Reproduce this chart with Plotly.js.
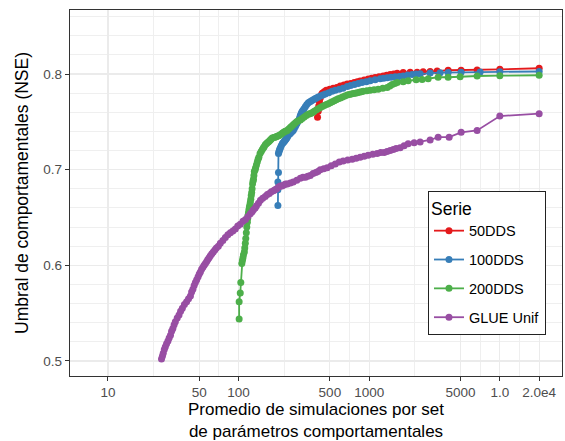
<!DOCTYPE html>
<html>
<head>
<meta charset="utf-8">
<script src="https://cdn.plot.ly/plotly-3.0.1.min.js"></script>
<style>
  html, body { margin: 0; padding: 0; background: #fff; }
  #chart { width: 565px; height: 441px; }
</style>
</head>
<body>
<div id="chart"></div>
<script>
// ---- Data ----
const seriesNames = ["50DDS", "100DDS", "200DDS", "GLUE Unif"];
const seriesColors = ["#E41A1C", "#377EB8", "#4DAF4A", "#984EA3"];

const dds50_x = [402, 407, 411, 416, 422, 429, 437, 452, 469, 498, 530, 565, 600, 640, 679, 722, 768, 810, 853, 915, 983, 1045, 1111, 1190, 1279, 1360, 1447, 1540, 1638, 1820, 2059, 2328, 2588, 2928, 3311, 4020, 5052, 6700, 10000, 20000];
const dds50_y = [0.7547, 0.761, 0.7666, 0.771, 0.775, 0.778, 0.780, 0.7815, 0.783, 0.784, 0.785, 0.786, 0.7875, 0.7885, 0.7895, 0.790, 0.791, 0.792, 0.7927, 0.7937, 0.7948, 0.7955, 0.7963, 0.797, 0.7979, 0.7987, 0.7995, 0.800, 0.8007, 0.8016, 0.8018, 0.8019, 0.8023, 0.8026, 0.8031, 0.8039, 0.804, 0.8042, 0.8049, 0.806];

const dds100_x = [200, 200, 200, 202, 202, 203.5, 205, 207, 209, 212, 216, 219, 222, 225, 228, 231, 234, 237, 240, 245, 250, 256, 262, 267, 272, 276, 280, 284, 289, 293, 297, 302, 306, 311, 318, 325, 333, 342, 352, 362, 373, 384, 395, 407, 424, 442, 461, 490, 520, 550, 590, 630, 679, 720, 770, 824, 880, 950, 1018, 1110, 1214, 1290, 1373, 1470, 1581, 1700, 1820, 1970, 2133, 2290, 2455, 2928, 3491, 4020, 5052, 7063, 10000, 20000];
const dds100_y = [0.6625, 0.679, 0.687, 0.697, 0.717, 0.7185, 0.720, 0.7215, 0.723, 0.725, 0.727, 0.728, 0.729, 0.730, 0.731, 0.732, 0.733, 0.7345, 0.736, 0.737, 0.738, 0.7395, 0.741, 0.743, 0.745, 0.747, 0.7485, 0.750, 0.752, 0.754, 0.7565, 0.759, 0.7605, 0.762, 0.764, 0.766, 0.768, 0.770, 0.771, 0.772, 0.773, 0.774, 0.775, 0.776, 0.777, 0.778, 0.779, 0.7805, 0.782, 0.783, 0.784, 0.785, 0.787, 0.788, 0.789, 0.790, 0.791, 0.792, 0.793, 0.794, 0.795, 0.7955, 0.796, 0.7965, 0.797, 0.7975, 0.798, 0.799, 0.7995, 0.800, 0.8003, 0.801, 0.8014, 0.8016, 0.8018, 0.802, 0.8023, 0.8026];

const dds200_x = [101, 101, 103, 104, 105.9, 107, 108, 109, 110.7, 111.5, 112.6, 113.5, 114.6, 115.6, 116.7, 117.5, 118, 119, 120, 121, 122, 123, 124, 125, 126, 127, 128, 129, 130, 131, 132, 134, 135, 137, 139, 141, 143, 146, 149, 152, 155, 157, 160, 163, 166, 169, 172, 175, 178, 181, 186, 190, 194, 198, 202, 206, 211, 216, 221, 226, 231, 236, 242, 249, 255, 262, 270, 278, 287, 297, 307, 318, 330, 342, 351, 360, 370, 380, 395, 410, 423, 437, 453, 470, 486, 503, 521, 540, 559, 579, 602, 625, 651, 679, 704, 730, 756, 782, 810, 840, 870, 900, 960, 1018, 1090, 1172, 1270, 1373, 1440, 1500, 1570, 1638, 1820, 1988, 2288, 2543, 2827, 3371, 4020, 4966, 6700, 10000, 20000];
const dds200_y = [0.544, 0.562, 0.571, 0.582, 0.602, 0.605, 0.608, 0.611, 0.614, 0.618, 0.623, 0.628, 0.634, 0.640, 0.645, 0.649, 0.652, 0.655, 0.658, 0.661, 0.663, 0.666, 0.669, 0.673, 0.676, 0.680, 0.685, 0.688, 0.690, 0.694, 0.698, 0.700, 0.702, 0.705, 0.708, 0.711, 0.713, 0.717, 0.719, 0.721, 0.723, 0.724, 0.726, 0.727, 0.728, 0.729, 0.730, 0.731, 0.732, 0.733, 0.7335, 0.734, 0.7345, 0.735, 0.7355, 0.736, 0.737, 0.738, 0.739, 0.740, 0.7405, 0.741, 0.7425, 0.744, 0.7455, 0.747, 0.7485, 0.750, 0.751, 0.752, 0.7535, 0.755, 0.7565, 0.758, 0.7585, 0.759, 0.760, 0.761, 0.7625, 0.764, 0.765, 0.766, 0.767, 0.768, 0.769, 0.770, 0.771, 0.772, 0.773, 0.774, 0.775, 0.776, 0.777, 0.778, 0.7785, 0.779, 0.7795, 0.780, 0.7805, 0.781, 0.7815, 0.782, 0.7825, 0.783, 0.7835, 0.784, 0.785, 0.786, 0.7875, 0.789, 0.790, 0.791, 0.792, 0.793, 0.794, 0.7943, 0.795, 0.7966, 0.7966, 0.7972, 0.7979, 0.7982, 0.7987];

const glue_x = [25.7, 26.1, 26.5, 27.0, 27.5, 28.1, 28.8, 29.4, 30.1, 30.7, 31.4, 32.1, 32.8, 33.9, 35.0, 36.0, 37.1, 38.5, 40.0, 41.4, 42.8, 43.7, 44.7, 45.7, 46.7, 47.8, 49.0, 50.0, 51.0, 52.1, 53.3, 54.5, 55.7, 57.0, 58.2, 59.5, 60.8, 62.4, 64.0, 65.8, 67.6, 70.0, 72.5, 75.8, 79.2, 82.8, 86.5, 90.4, 94.4, 98.6, 103, 108, 113, 118, 123, 127, 130, 134, 137, 142, 147, 153, 160, 166, 172, 178, 185, 190, 196, 202, 209, 215, 222, 229, 236, 249, 262, 279, 297, 311, 325, 339, 354, 372, 390, 405, 422, 449, 477, 512, 550, 590, 632, 685, 741, 795, 853, 915, 982, 1065, 1151, 1225, 1302, 1370, 1448, 1530, 1608, 1726, 1850, 1987, 2208, 2455, 2928, 3371, 4093, 5058, 6700, 10000, 20000];
const glue_y = [0.502, 0.505, 0.508, 0.512, 0.515, 0.518, 0.521, 0.524, 0.527, 0.531, 0.534, 0.538, 0.541, 0.545, 0.548, 0.552, 0.555, 0.559, 0.562, 0.565, 0.568, 0.572, 0.575, 0.579, 0.582, 0.585, 0.588, 0.591, 0.593, 0.596, 0.598, 0.600, 0.602, 0.604, 0.606, 0.608, 0.610, 0.612, 0.614, 0.616, 0.618, 0.620, 0.623, 0.626, 0.629, 0.632, 0.634, 0.636, 0.638, 0.641, 0.643, 0.646, 0.648, 0.651, 0.654, 0.656, 0.658, 0.660, 0.662, 0.665, 0.668, 0.670, 0.672, 0.674, 0.675, 0.677, 0.678, 0.679, 0.680, 0.682, 0.683, 0.683, 0.684, 0.685, 0.685, 0.686, 0.687, 0.689, 0.691, 0.692, 0.692, 0.693, 0.694, 0.696, 0.697, 0.698, 0.700, 0.701, 0.702, 0.704, 0.706, 0.708, 0.709, 0.710, 0.711, 0.712, 0.713, 0.714, 0.715, 0.716, 0.717, 0.718, 0.718, 0.719, 0.720, 0.721, 0.722, 0.723, 0.725, 0.727, 0.728, 0.729, 0.731, 0.734, 0.734, 0.739, 0.741, 0.756, 0.7585];

const xTickVals = [10, 50, 100, 500, 1000, 5000, 10000, 20000];
const xTickText = ["10", "50", "100", "500", "1000", "5000", "1.0", "2.0e4"];
const xMinorVals = [22.36, 70.71, 223.6, 707.1, 2236, 7071, 14142];
const yTickVals = [0.5, 0.6, 0.7, 0.8];
const yTickText = ["0.5", "0.6", "0.7", "0.8"];

const xs = [dds50_x, dds100_x, dds200_x, glue_x];
const ys = [dds50_y, dds100_y, dds200_y, glue_y];

const FONT = "Liberation Sans, Arial, sans-serif";

const traces = seriesNames.map((name, i) => ({
  type: "scatter",
  mode: "lines+markers",
  name: name,
  legendgroup: "g" + i,
  x: xs[i],
  y: ys[i],
  line: { color: seriesColors[i], width: 1.8 },
  marker: { color: seriesColors[i], size: 7 }
}));

const layout = {
  width: 565,
  height: 441,
  margin: { l: 70, r: 3, t: 10, b: 65 },
  paper_bgcolor: "#ffffff",
  plot_bgcolor: "#ffffff",
  font: { family: FONT, color: "#000000" },
  showlegend: true,
  legend: {
    x: 0.7276, y: 0.5055, xanchor: "left", yanchor: "top",
    bgcolor: "#ffffff", bordercolor: "#222222", borderwidth: 1,
    font: { family: FONT, size: 14.5, color: "#000000" },
    title: { text: "Serie", font: { family: FONT, size: 17.5, color: "#000000" } },
    tracegroupgap: 7,
    traceorder: "grouped"
  },
  xaxis: {
    type: "log",
    range: [0.7094, 4.476],
    tickmode: "array",
    tickvals: xTickVals,
    ticktext: xTickText,
    ticks: "outside", ticklen: 4, tickcolor: "#333333", tickwidth: 1,
    tickfont: { family: FONT, size: 13.5, color: "#4D4D4D" },
    showgrid: true, gridcolor: "#EBEBEB", gridwidth: 1.1,
    minor: { tickmode: "array", tickvals: xMinorVals, showgrid: true, gridcolor: "#EFEFEF", gridwidth: 1, ticks: "" },
    showline: true, mirror: true, linecolor: "#333333", linewidth: 1.2,
    zeroline: false,
    title: { text: "Promedio de simulaciones por set<br>de parámetros comportamentales", font: { family: FONT, size: 17, color: "#000000" }, standoff: 14 }
  },
  yaxis: {
    range: [0.4843, 0.8669],
    tickmode: "array",
    tickvals: yTickVals,
    ticktext: yTickText,
    ticks: "outside", ticklen: 4, tickcolor: "#333333", tickwidth: 1,
    tickfont: { family: FONT, size: 13.5, color: "#4D4D4D" },
    showgrid: true, gridcolor: "#EBEBEB", gridwidth: 1.1,
    minor: { tick0: 0.5, dtick: 0.02, showgrid: true, gridcolor: "#EFEFEF", gridwidth: 1, ticks: "" },
    showline: true, mirror: true, linecolor: "#333333", linewidth: 1.2,
    zeroline: false,
    title: { text: "Umbral de comportamentales (NSE)", font: { family: FONT, size: 17.5, color: "#000000" }, standoff: 10 }
  }
};

Plotly.newPlot("chart", traces, layout, { displayModeBar: false, staticPlot: true });
</script>
</body>
</html>
